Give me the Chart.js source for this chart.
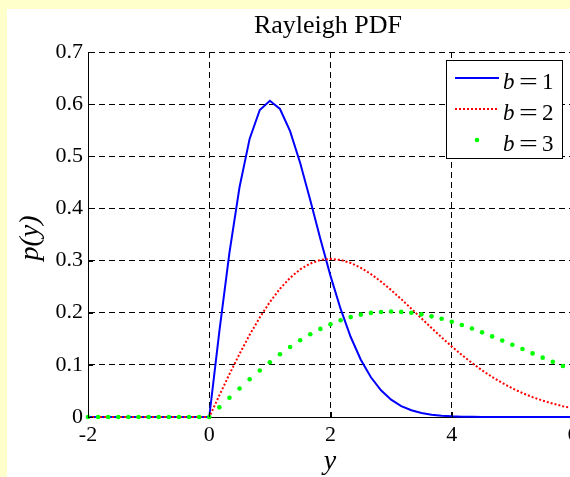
<!DOCTYPE html>
<html><head><meta charset="utf-8">
<script src="https://cdn.jsdelivr.net/npm/chart.js@4.4.0/dist/chart.umd.min.js"></script>
<style>
html,body{margin:0;padding:0;overflow:hidden;background:#ffffcc;width:570px;height:477px}
#panel{position:absolute;left:7px;top:9px;width:600px;height:500px;background:#ffffff}
#wrap{position:absolute;left:0;top:0;width:600px;height:477px}
</style></head><body>
<div id="panel"></div>
<div id="wrap"><canvas id="c" width="600" height="477"></canvas></div>
<script>
const titleText = 'Rayleigh PDF';
const xLabel = 'y';
const yLabel = 'p(y)';
const seriesB = ['1', '2', '3'];
const xTicks = [-2, 0, 2, 4, 6];
const yTicks = [0, 0.1, 0.2, 0.3, 0.4, 0.5, 0.6, 0.7];
const xValues = [-2,-1.8333,-1.6667,-1.5,-1.3333,-1.1667,-1,-0.8333,-0.6667,-0.5,-0.3333,-0.1667,
  0,0.1667,0.3333,0.5,0.6667,0.8333,1,1.1667,1.3333,1.5,1.6667,1.8333,2,2.1667,2.3333,2.5,2.6667,2.8333,
  3,3.1667,3.3333,3.5,3.6667,3.8333,4,4.1667,4.3333,4.5,4.6667,4.8333,5,5.1667,5.3333,5.5,5.6667,5.8333,6];
const pdfB1 = [0,0,0,0,0,0,0,0,0,0,0,0,
  0,0.1644,0.3153,0.4412,0.5338,0.5888,0.6065,0.5907,0.5481,0.4870,0.4157,0.3414,0.2707,0.2072,0.1534,0.1098,0.0762,0.0512,
  0.0333,0.0210,0.0129,0.0077,0.0044,0.0025,0.0013,0.0007,0.0004,0.0002,0.0001,0,0,0,0,0,0,0,0];
const pdfB2 = [0,0,0,0,0,0,0,0,0,0,0,0,
  0,0.0415,0.0822,0.1212,0.1577,0.1910,0.2206,0.2460,0.2669,0.2831,0.2944,0.3011,0.3033,0.3012,0.2954,0.2861,0.2741,0.2597,
  0.2435,0.2260,0.2078,0.1892,0.1707,0.1527,0.1353,0.1189,0.1036,0.0895,0.0767,0.0652,0.0549,0.0459,0.0381,0.0314,0.0256,0.0207,0.0167];
const pdfB3 = [0,0,0,0,0,0,0,0,0,0,0,0,
  0,0.0185,0.0368,0.0548,0.0723,0.0891,0.1051,0.1202,0.1342,0.1471,0.1587,0.1690,0.1779,0.1855,0.1916,0.1963,0.1996,0.2015,
  0.2022,0.2016,0.1998,0.1969,0.1930,0.1883,0.1827,0.1765,0.1696,0.1623,0.1546,0.1467,0.1385,0.1303,0.1220,0.1138,0.1058,0.0979,0.0902];

const serif = '"Liberation Serif","Times New Roman",serif';
const pts = arr => xValues.map((x, i) => ({x: x, y: arr[i]}));

const decor = {
  id: 'decor',
  afterDraw(chart) {
    const c = chart.ctx, a = chart.chartArea;
    const xs = chart.scales.x, ys = chart.scales.y;
    c.save();
    c.strokeStyle = '#000'; c.lineWidth = 1; c.setLineDash([]);
    yTicks.forEach(v => { const y = Math.round(ys.getPixelForValue(v)) + 0.5;
      c.beginPath(); c.moveTo(a.left, y); c.lineTo(a.left + 5, y); c.stroke(); });
    xTicks.forEach(v => { const x = Math.round(xs.getPixelForValue(v)) + 0.5;
      c.beginPath(); c.moveTo(x, a.bottom); c.lineTo(x, a.bottom - 5); c.stroke(); });
    // title and axis labels
    c.fillStyle = '#000'; c.textAlign = 'center'; c.textBaseline = 'alphabetic';
    c.font = '26px ' + serif;
    c.fillText(titleText, 328, 33);
    c.font = 'italic 28px ' + serif;
    c.fillText(xLabel, 330, 469);
    c.save(); c.translate(38, 238); c.rotate(-Math.PI / 2);
    c.fillText(yLabel, 0, 0); c.restore();
    // legend
    const L = 446, T = 60, W = 116, H = 98;
    c.fillStyle = '#fff'; c.fillRect(L, T, W, H);
    c.strokeStyle = '#000'; c.lineWidth = 1; c.strokeRect(L + 0.5, T + 0.5, W, H);
    const ds = chart.data.datasets;
    const rows = [78, 109, 140];
    rows.forEach((ry, i) => {
      const d = ds[i];
      c.save();
      if (d.showLine === false) {
        c.fillStyle = d.backgroundColor; c.beginPath(); c.arc(477, ry, 2.3, 0, Math.PI * 2); c.fill();
      } else {
        c.strokeStyle = d.borderColor; c.lineWidth = d.borderWidth; c.setLineDash(d.borderDash || []);
        c.beginPath(); c.moveTo(455, ry); c.lineTo(499, ry); c.stroke();
      }
      c.restore();
      const base = ry + 10.5;
      c.fillStyle = '#000'; c.textAlign = 'left';
      c.font = 'italic 23px ' + serif; c.fillText('b', 503, base);
      c.save(); c.translate(528.5, base); c.scale(1.45, 1);
      c.font = '23px ' + serif; c.textAlign = 'center'; c.fillText('=', 0, 0); c.restore();
      c.font = '23px ' + serif; c.textAlign = 'left'; c.fillText(seriesB[i], 542, base);
    });
    c.restore();
  }
};

new Chart(document.getElementById('c').getContext('2d'), {
  type: 'line',
  data: { datasets: [
    { label: 'b = ' + seriesB[0], data: pts(pdfB1), borderColor: '#0000ff', backgroundColor: '#0000ff', borderWidth: 2,
      pointRadius: 0, fill: false, tension: 0, order: 2, clip: false },
    { label: 'b = ' + seriesB[1], data: pts(pdfB2), borderColor: '#ff0000', backgroundColor: '#ff0000', borderWidth: 2,
      borderDash: [2, 2], pointRadius: 0, fill: false, tension: 0, order: 1, clip: false },
    { label: 'b = ' + seriesB[2], data: pts(pdfB3), borderColor: '#00ff00', backgroundColor: '#00ff00', showLine: false,
      pointRadius: 2.3, pointBorderWidth: 0, order: 0, clip: false }
  ]},
  options: {
    responsive: false, animation: false, devicePixelRatio: 1,
    layout: { padding: { left: 0, top: 52, right: 27, bottom: 0 } },
    plugins: { legend: { display: false }, tooltip: { enabled: false }, title: { display: false } },
    scales: {
      x: { type: 'linear', min: -2, max: 6,
        afterBuildTicks: s => { s.ticks = xTicks.map(v => ({ value: v })); },
        afterFit: s => { s.height = 60; },
        grid: { color: '#000', lineWidth: 1, drawTicks: false },
        border: { display: true, color: '#000', width: 1, dash: [6, 4] },
        ticks: { color: '#000', font: { family: serif, size: 22 }, padding: 5, maxRotation: 0, autoSkip: false,
          callback: v => String(v) } },
      y: { type: 'linear', min: 0, max: 0.7,
        afterBuildTicks: s => { s.ticks = yTicks.map(v => ({ value: v })); },
        afterFit: s => { s.width = 88; },
        grid: { color: '#000', lineWidth: 1, drawTicks: false },
        border: { display: true, color: '#000', width: 1, dash: [6, 4] },
        ticks: { color: '#000', font: { family: serif, size: 22 }, padding: 5, autoSkip: false,
          callback: v => (v === 0 ? '0' : v.toFixed(1)) } }
    }
  },
  plugins: [decor]
});
</script>
</body></html>
